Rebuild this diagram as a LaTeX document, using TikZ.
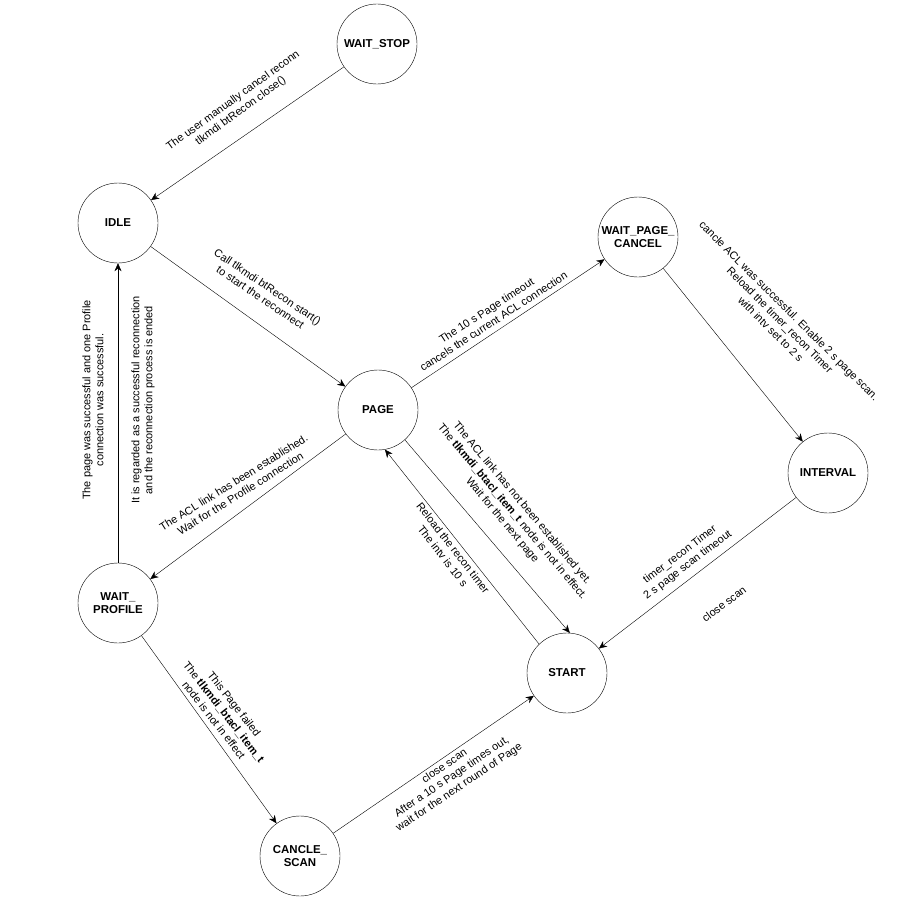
\documentclass[tikz,border=0pt]{standalone}
\usepackage{fontspec}
\setmainfont{Liberation Sans}
\usetikzlibrary{arrows.meta, positioning}
\begin{document}
\begin{tikzpicture}[x=1bp, y=-1bp,
    state/.style={circle, draw, minimum size=80bp, inner sep=0pt, align=center, font=\fontsize{11.5}{13.5}\selectfont\bfseries},
    arrow/.style={-{Stealth[length=8bp, width=7bp]}},
    lbl/.style={align=center, inner sep=0pt, font=\fontsize{11}{13}\selectfont}
]
    \useasboundingbox (0,0) rectangle (906,908);
    \node[state] (waitstop) at (377,44) {WAIT\_STOP};
    \node[state] (idle) at (118,223) {IDLE};
    \node[state] (waitcancel) at (638,237) {WAIT\_PAGE\_\\CANCEL};
    \node[state] (page) at (378,410) {PAGE};
    \node[state] (interval) at (828,473) {INTERVAL};
    \node[state] (waitprofile) at (118,603) {WAIT\_\\PROFILE};
    \node[state] (start) at (567,673) {START};
    \node[state] (canclescan) at (300,856) {CANCLE\_\\SCAN};

    \draw[arrow] (waitstop) -- (idle);
    \draw[arrow] (idle) -- (page);
    \draw[arrow] (page) -- (waitcancel);
    \draw[arrow] (waitcancel) -- (interval);
    \draw[arrow] (interval) -- (start);
    \draw[arrow] (start.134) -- (page.-80);
    \draw[arrow] (page.-48) -- (start.86);
    \draw[arrow] (page) -- (waitprofile);
    \draw[arrow] (waitprofile) -- (idle);
    \draw[arrow] (waitprofile) -- (canclescan);
    \draw[arrow] (canclescan) -- (start);

    \node[lbl, rotate=36] at (237,106) {The user manually cancel reconn\\tlkmdi btRecon close()};
    \node[lbl, rotate=-34] at (264,292) {Call tlkmdi btRecon start()\\to start the reconnect};
    \node[lbl, rotate=33] at (490,316) {The 10 s Page timeout\\cancels the current ACL connection};
    \node[lbl, rotate=-45] at (780,320) {cancle ACL was successful. Enable 2 s page scan.\\Reload the timer\_recon Timer\\with intv set to 2 s};
    \node[lbl, rotate=37] at (684,560) {timer\_recon Timer\\2 s page scan timeout};
    \node[lbl, rotate=37] at (724,604) {close scan};
    \node[lbl, rotate=-52] at (448,552) {Reload the recon timer\\The intv is 10 s};
    \node[lbl, rotate=-50] at (512,512) {The ACL link has not been established yet.\\The \textbf{tlkmdi\_btacl\_item\_t} node is not in effect.\\Wait for the next page};
    \node[lbl, rotate=32] at (237,488) {The ACL link has been established.\\Wait for the Profile connection};
    \node[lbl, rotate=90] at (93,400) {The page was successful and one Profile\\connection was successful.};
    \node[lbl, rotate=90] at (143,400) {It is regarded as a successful reconnection\\and the reconnection process is ended};
    \node[lbl, rotate=-52] at (224,712) {This Page failed\\The \textbf{tlkmdi\_btacl\_item\_t}\\node is not in effect};
    \node[lbl, rotate=34] at (452,777) {close scan\\After a 10 s Page times out,\\wait for the next round of Page};
\end{tikzpicture}
\end{document}
